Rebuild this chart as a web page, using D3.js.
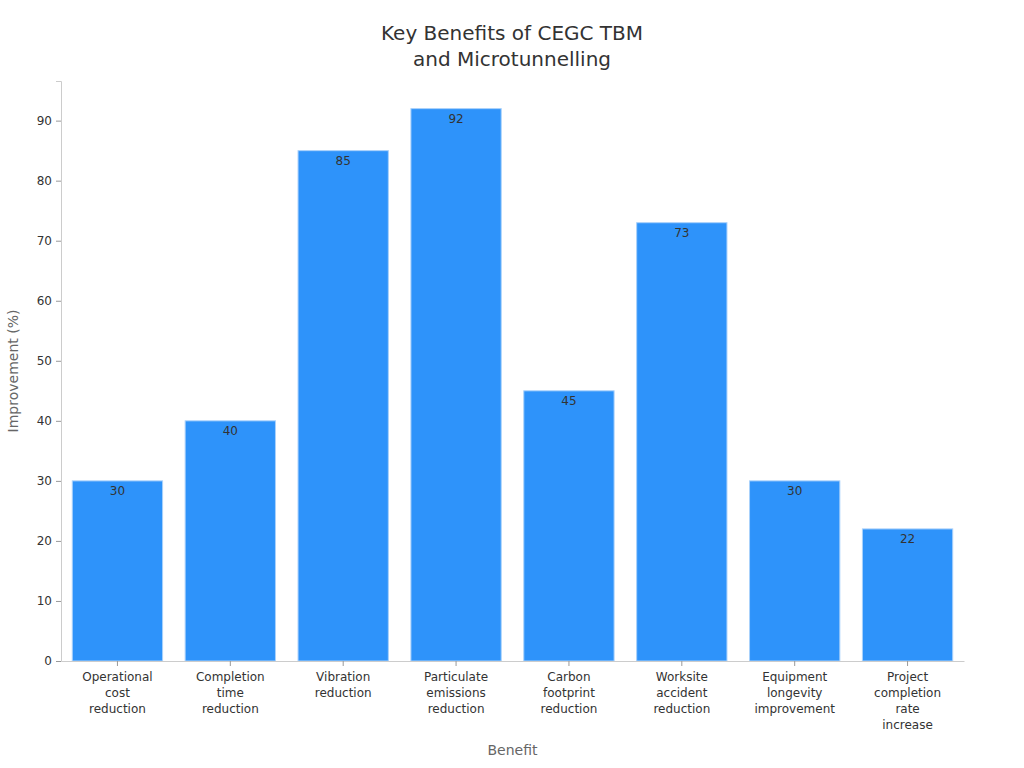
<!DOCTYPE html>
<html>
<head>
<meta charset="utf-8">
<script src="https://cdn.jsdelivr.net/npm/d3@7"></script>
<style>
  body { margin: 0; background: #fff; }
  svg { font-family: "DejaVu Sans", sans-serif; }
</style>
</head>
<body>
<div id="chart"></div>
<script>
const categories = [
  "Operational cost reduction",
  "Completion time reduction",
  "Vibration reduction",
  "Particulate emissions reduction",
  "Carbon footprint reduction",
  "Worksite accident reduction",
  "Equipment longevity improvement",
  "Project completion rate increase"
];
// wrapped tick labels, one line per entry
const tickLines = [
  ["Operational", "cost", "reduction"],
  ["Completion", "time", "reduction"],
  ["Vibration", "reduction"],
  ["Particulate", "emissions", "reduction"],
  ["Carbon", "footprint", "reduction"],
  ["Worksite", "accident", "reduction"],
  ["Equipment", "longevity", "improvement"],
  ["Project", "completion", "rate", "increase"]
];
const values = [30, 40, 85, 92, 45, 73, 30, 22];
const yTicks = [0, 10, 20, 30, 40, 50, 60, 70, 80, 90];

const width = 1024, height = 768;
const margin = { top: 81, right: 60, bottom: 107, left: 61 };
const chartWidth = width - margin.left - margin.right;
const chartHeight = height - margin.top - margin.bottom;

const svg = d3.select("#chart")
  .append("svg")
  .attr("width", width)
  .attr("height", height);

// title
svg.append("text")
  .attr("text-anchor", "middle")
  .attr("x", width / 2)
  .attr("fill", "#333")
  .style("font-size", "20px")
  .selectAll("tspan")
  .data(["Key Benefits of CEGC TBM", "and Microtunnelling"])
  .join("tspan")
  .attr("x", width / 2)
  .attr("y", (d, i) => 40 + i * 26)
  .text(d => d);

const g = svg.append("g")
  .attr("transform", `translate(${margin.left}, ${margin.top})`);

const x = d3.scaleBand()
  .domain(categories)
  .range([0, chartWidth])
  .paddingInner(0.2)
  .paddingOuter(0.1);

const y = d3.scaleLinear()
  .domain([0, d3.max(values) * 1.05])
  .range([chartHeight, 0]);

// y axis
const yAxis = g.append("g")
  .call(d3.axisLeft(y).tickValues(yTicks).tickSize(5).tickPadding(4));
yAxis.select(".domain").attr("stroke", "#ccc");
yAxis.selectAll(".tick line").attr("stroke", "#999");
yAxis.selectAll(".tick text")
  .attr("fill", "#333")
  .style("font-size", "12px")
  .style("font-family", "DejaVu Sans, sans-serif");

// bars
g.selectAll("rect.bar")
  .data(values)
  .join("rect")
  .attr("class", "bar")
  .attr("x", (d, i) => x(categories[i]))
  .attr("y", d => y(d))
  .attr("width", x.bandwidth())
  .attr("height", d => chartHeight - y(d))
  .attr("fill", "#2e93fa")
  .attr("stroke", "#a9d1fb")
  .attr("stroke-width", 1);

// value labels
g.selectAll("text.val")
  .data(values)
  .join("text")
  .attr("class", "val")
  .attr("text-anchor", "middle")
  .attr("x", (d, i) => x(categories[i]) + x.bandwidth() / 2)
  .attr("y", d => y(d) + 14)
  .attr("fill", "#333")
  .style("font-size", "12px")
  .text(d => d);

// x axis
const xAxis = g.append("g")
  .attr("transform", `translate(0, ${chartHeight})`)
  .call(d3.axisBottom(x).tickSize(5).tickSizeOuter(0));
xAxis.select(".domain").attr("stroke", "#ccc");
xAxis.selectAll(".tick line").attr("stroke", "#999");
xAxis.selectAll(".tick text").remove();
xAxis.selectAll(".tick")
  .append("text")
  .attr("text-anchor", "middle")
  .attr("fill", "#333")
  .style("font-size", "12px")
  .style("font-family", "DejaVu Sans, sans-serif")
  .selectAll("tspan")
  .data((d, i) => tickLines[i])
  .join("tspan")
  .attr("x", 0)
  .attr("y", (d, i) => 20 + i * 16)
  .text(d => d);

// axis titles
svg.append("text")
  .attr("text-anchor", "middle")
  .attr("x", margin.left + chartWidth / 2)
  .attr("y", 755)
  .attr("fill", "#666")
  .style("font-size", "14px")
  .text("Benefit");

svg.append("text")
  .attr("text-anchor", "middle")
  .attr("transform", `translate(18, ${margin.top + chartHeight / 2}) rotate(-90)`)
  .attr("fill", "#666")
  .style("font-size", "14px")
  .text("Improvement (%)");
</script>
</body>
</html>
